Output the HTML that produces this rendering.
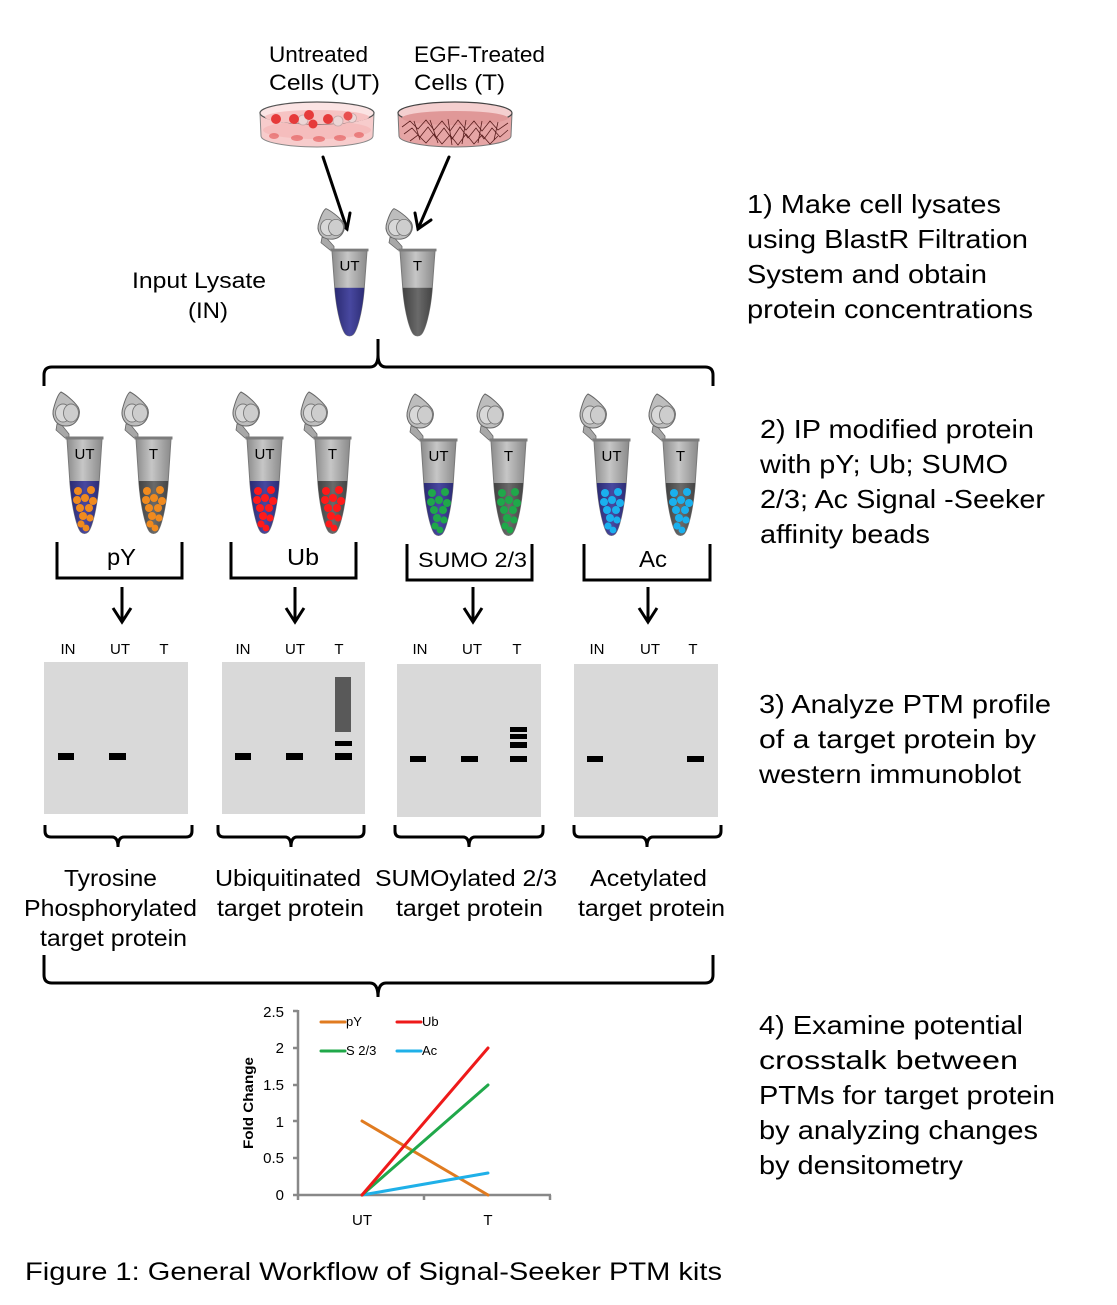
<!DOCTYPE html>
<html><head><meta charset="utf-8"><style>
html,body{margin:0;padding:0;background:#fff;}
svg{display:block;}
text{font-family:"Liberation Sans",Arial,sans-serif;fill:#000;}
</style></head><body>
<svg width="1117" height="1305" viewBox="0 0 1117 1305" xmlns="http://www.w3.org/2000/svg">
<defs>
<linearGradient id="gb" x1="0" x2="1" y1="0" y2="0"><stop offset="0" stop-color="#8c8c8c"/><stop offset=".45" stop-color="#c6c6c6"/><stop offset="1" stop-color="#8a8a8a"/></linearGradient>
<linearGradient id="lb" x1="0" x2="1" y1="0" y2="0"><stop offset="0" stop-color="#26266a"/><stop offset=".5" stop-color="#4848a0"/><stop offset="1" stop-color="#26266a"/></linearGradient>
<linearGradient id="lg" x1="0" x2="1" y1="0" y2="0"><stop offset="0" stop-color="#3a3a3a"/><stop offset=".5" stop-color="#6a6a6a"/><stop offset="1" stop-color="#3a3a3a"/></linearGradient>
<path id="body" d="M0,1 L35,1 L32,46 C30,70 25,90 21,94 Q17.5,97 14,94 C10,90 5,70 3,46 Z"/>
<clipPath id="cb"><path d="M0,1 L35,1 L32,46 C30,70 25,90 21,94 Q17.5,97 14,94 C10,90 5,70 3,46 Z"/></clipPath>
<g id="cap">
<path d="M-10,-14 L-6,-14 L2,-4 L2,0 L-2,0 L-11,-8 Z" fill="#a8a8a8" stroke="#666" stroke-width=".8"/>
<path d="M-6,-46 C-2,-44 6,-38 11,-31 C15,-24 10,-12 -1,-12 C-12,-12 -16,-22 -13,-31 C-11,-38 -9,-44 -6,-46 Z" fill="#bdbdbd" stroke="#666" stroke-width="1"/>
<ellipse cx="-4" cy="-25" rx="7.5" ry="9" fill="#d8d8d8" stroke="#777" stroke-width=".9"/>
<ellipse cx="4" cy="-25" rx="7.5" ry="9" fill="#cdcdcd" stroke="#777" stroke-width=".9"/>
</g>
<g id="tube">
<use href="#cap"/>
<use href="#body" fill="url(#gb)" stroke="#7a7a7a" stroke-width="1"/>
<rect x="-1.5" y="-1.5" width="38" height="3" fill="#7c7c7c"/>
</g>
<g id="beads">
<circle cx="11" cy="53" r="4"/><circle cx="24" cy="52" r="4"/>
<circle cx="10" cy="62" r="4"/><circle cx="18" cy="60" r="4"/><circle cx="26" cy="63" r="4"/>
<circle cx="13" cy="70" r="4"/><circle cx="22" cy="70" r="4"/>
<circle cx="16" cy="78" r="4"/><circle cx="23" cy="80" r="3.6"/>
<circle cx="14" cy="86" r="3.6"/><circle cx="19" cy="90" r="3.4"/>
</g>
</defs>

<!-- top labels -->
<text x="269" y="62" font-size="22" textLength="99" lengthAdjust="spacingAndGlyphs">Untreated</text>
<text x="269" y="90" font-size="22" textLength="111" lengthAdjust="spacingAndGlyphs">Cells  (UT)</text>
<text x="414" y="62" font-size="22" textLength="131" lengthAdjust="spacingAndGlyphs">EGF-Treated</text>
<text x="414" y="90" font-size="22" textLength="91" lengthAdjust="spacingAndGlyphs">Cells  (T)</text>

<!-- UT dish -->
<path d="M260,113 L261,136 A56,11 0 0 0 373,136 L374,113 Z" fill="#f7cccc" stroke="#888" stroke-width="1"/>
<ellipse cx="317" cy="130" rx="54" ry="9" fill="#f3b6b6" opacity=".7"/>
<ellipse cx="317" cy="113" rx="57" ry="11" fill="#fbe4e4" stroke="#555" stroke-width="1.2"/>
<ellipse cx="317" cy="117" rx="52" ry="7" fill="#f6c3c3"/>
<circle cx="303" cy="120" r="5" fill="#ecd6d6" stroke="#c4a8a8" stroke-width=".8"/>
<circle cx="338" cy="121" r="5" fill="#ecd6d6" stroke="#c4a8a8" stroke-width=".8"/>
<circle cx="352" cy="118" r="4.5" fill="#ecd6d6" stroke="#c4a8a8" stroke-width=".8"/>
<circle cx="276" cy="119" r="5" fill="#e63a3a"/>
<circle cx="294" cy="119" r="5" fill="#e63a3a"/>
<circle cx="309" cy="115" r="5" fill="#e63a3a"/>
<circle cx="313" cy="124" r="4.5" fill="#e63a3a"/>
<circle cx="328" cy="119" r="5" fill="#e63a3a"/>
<circle cx="348" cy="116" r="4.5" fill="#e85050"/>
<ellipse cx="274" cy="136" rx="5" ry="3" fill="#e56262" opacity=".7"/>
<ellipse cx="297" cy="138" rx="6" ry="3" fill="#e56262" opacity=".7"/>
<ellipse cx="319" cy="139" rx="6" ry="3" fill="#e56262" opacity=".7"/>
<ellipse cx="340" cy="138" rx="6" ry="3" fill="#e56262" opacity=".7"/>
<ellipse cx="359" cy="135" rx="5" ry="3" fill="#e56262" opacity=".7"/>

<!-- T dish -->
<path d="M398,113 L399,136 A56,11 0 0 0 511,136 L512,113 Z" fill="#e6a5a5" stroke="#777" stroke-width="1"/>
<ellipse cx="455" cy="113" rx="57" ry="11" fill="#f4cfcf" stroke="#444" stroke-width="1.2"/>
<ellipse cx="455" cy="118" rx="53" ry="7" fill="#e09898"/>
<g fill="none" stroke="#5a1e1e" stroke-width=".8">
<path d="M402,127 L410,121 L418,129 L426,120 L434,130 L442,121 L450,131 L458,120 L466,130 L474,121 L482,131 L490,121 L498,130 L508,123"/>
<path d="M404,134 L412,128 L420,137 L428,127 L436,138 L444,128 L452,139 L460,127 L468,138 L476,128 L484,139 L492,128 L500,137 L508,130"/>
<path d="M410,141 L418,135 L426,143 L434,134 L442,144 L450,135 L458,145 L466,134 L474,144 L482,135 L490,144 L498,136"/>
<path d="M414,121 L420,140 M430,120 L438,143 M448,119 L452,145 M466,120 L462,144 M482,121 L478,143 M498,122 L494,140"/>
</g>

<!-- arrows to tubes -->
<g stroke="#000" stroke-width="3" fill="none" stroke-linecap="round">
<line x1="323" y1="157" x2="347" y2="229"/>
<polyline points="335,219 347,229 350,213"/>
<line x1="449" y1="157" x2="418" y2="229"/>
<polyline points="415,213 418,229 431,220"/>
</g>

<!-- Input lysate -->
<text x="132" y="288" font-size="22" textLength="134" lengthAdjust="spacingAndGlyphs">Input Lysate</text>
<text x="188" y="318" font-size="22" textLength="40" lengthAdjust="spacingAndGlyphs">(IN)</text>

<!-- top tubes -->
<g transform="translate(332,250) scale(1,0.9)">
<use href="#tube"/>
<rect clip-path="url(#cb)" x="0" y="42" width="36" height="60" fill="url(#lb)"/>
<text x="17.5" y="23" font-size="15" text-anchor="middle">UT</text>
</g>
<g transform="translate(400,250) scale(1,0.9)">
<use href="#tube"/>
<rect clip-path="url(#cb)" x="0" y="42" width="36" height="60" fill="url(#lg)"/>
<text x="17.5" y="23" font-size="15" text-anchor="middle">T</text>
</g>

<!-- big bracket 1 -->
<path d="M44,386 L44,375 Q44,367 52,367 L370,367 Q378,367 378,355 Q378,367 386,367 L705,367 Q713,367 713,375 L713,386" fill="none" stroke="#000" stroke-width="3"/>
<line x1="378" y1="339" x2="378" y2="360" stroke="#000" stroke-width="3"/>

<!-- row 2 tubes -->
<g transform="translate(67,438)"><use href="#tube"/><rect clip-path="url(#cb)" x="0" y="43" width="36" height="60" fill="url(#lb)"/><use href="#beads" fill="#f08a1e"/><text x="17.5" y="21" font-size="15" text-anchor="middle">UT</text></g>
<g transform="translate(136,438)"><use href="#tube"/><rect clip-path="url(#cb)" x="0" y="43" width="36" height="60" fill="url(#lg)"/><use href="#beads" fill="#f08a1e"/><text x="17.5" y="21" font-size="15" text-anchor="middle">T</text></g>
<g transform="translate(247,438)"><use href="#tube"/><rect clip-path="url(#cb)" x="0" y="43" width="36" height="60" fill="url(#lb)"/><use href="#beads" fill="#ff1a1a"/><text x="17.5" y="21" font-size="15" text-anchor="middle">UT</text></g>
<g transform="translate(315,438)"><use href="#tube"/><rect clip-path="url(#cb)" x="0" y="43" width="36" height="60" fill="url(#lg)"/><use href="#beads" fill="#ff1a1a"/><text x="17.5" y="21" font-size="15" text-anchor="middle">T</text></g>
<g transform="translate(421,440)"><use href="#tube"/><rect clip-path="url(#cb)" x="0" y="43" width="36" height="60" fill="url(#lb)"/><use href="#beads" fill="#1fa84a"/><text x="17.5" y="21" font-size="15" text-anchor="middle">UT</text></g>
<g transform="translate(491,440)"><use href="#tube"/><rect clip-path="url(#cb)" x="0" y="43" width="36" height="60" fill="url(#lg)"/><use href="#beads" fill="#1fa84a"/><text x="17.5" y="21" font-size="15" text-anchor="middle">T</text></g>
<g transform="translate(594,440)"><use href="#tube"/><rect clip-path="url(#cb)" x="0" y="43" width="36" height="60" fill="url(#lb)"/><use href="#beads" fill="#1ab0ee"/><text x="17.5" y="21" font-size="15" text-anchor="middle">UT</text></g>
<g transform="translate(663,440)"><use href="#tube"/><rect clip-path="url(#cb)" x="0" y="43" width="36" height="60" fill="url(#lg)"/><use href="#beads" fill="#1ab0ee"/><text x="17.5" y="21" font-size="15" text-anchor="middle">T</text></g>

<!-- group brackets -->
<g fill="none" stroke="#000" stroke-width="3">
<polyline points="57,542 57,578 182,578 182,542"/>
<polyline points="231,542 231,578 356,578 356,542"/>
<polyline points="407,544 407,580 532,580 532,544"/>
<polyline points="584,544 584,580 710,580 710,544"/>
</g>
<text x="107" y="565" font-size="23" textLength="29" lengthAdjust="spacingAndGlyphs">pY</text>
<text x="287" y="565" font-size="23" textLength="32" lengthAdjust="spacingAndGlyphs">Ub</text>
<text x="418" y="567" font-size="21" textLength="109" lengthAdjust="spacingAndGlyphs">SUMO 2/3</text>
<text x="639" y="567" font-size="23" textLength="28" lengthAdjust="spacingAndGlyphs">Ac</text>

<!-- down arrows -->
<g stroke="#000" stroke-width="3" fill="none">
<line x1="122" y1="587" x2="122" y2="621"/><polyline points="113,608 122,622 131,608"/>
<line x1="295" y1="587" x2="295" y2="621"/><polyline points="286,608 295,622 304,608"/>
<line x1="473" y1="587" x2="473" y2="621"/><polyline points="464,608 473,622 482,608"/>
<line x1="648" y1="587" x2="648" y2="621"/><polyline points="639,608 648,622 657,608"/>
</g>

<!-- lane labels -->
<g font-size="15" text-anchor="middle">
<text x="68" y="654">IN</text><text x="120" y="654">UT</text><text x="164" y="654">T</text>
<text x="243" y="654">IN</text><text x="295" y="654">UT</text><text x="339" y="654">T</text>
<text x="420" y="654">IN</text><text x="472" y="654">UT</text><text x="517" y="654">T</text>
<text x="597" y="654">IN</text><text x="650" y="654">UT</text><text x="693" y="654">T</text>
</g>

<!-- blots -->
<rect x="44" y="662" width="144" height="152" fill="#d9d9d9"/>
<rect x="222" y="662" width="143" height="152" fill="#d9d9d9"/>
<rect x="397" y="664" width="144" height="153" fill="#d9d9d9"/>
<rect x="574" y="664" width="144" height="153" fill="#d9d9d9"/>
<g fill="#000">
<rect x="58" y="753" width="16" height="7"/><rect x="109" y="753" width="17" height="7"/>
<rect x="235" y="753" width="16" height="7"/><rect x="286" y="753" width="17" height="7"/><rect x="335" y="753" width="17" height="7"/>
<rect x="335" y="741" width="17" height="5"/>
<rect x="410" y="756" width="16" height="6"/><rect x="461" y="756" width="17" height="6"/><rect x="510" y="756" width="17" height="6"/>
<rect x="510" y="727" width="17" height="5"/><rect x="510" y="734" width="17" height="5"/><rect x="510" y="742" width="17" height="6"/>
<rect x="587" y="756" width="16" height="6"/><rect x="687" y="756" width="17" height="6"/>
</g>
<rect x="335" y="677" width="16" height="55" fill="#595959"/>

<!-- blot brackets -->
<g fill="none" stroke="#000" stroke-width="3">
<path d="M45,825 L45,831 Q45,837 51,837 L112,837 Q118,837 118,847 Q118,837 124,837 L186,837 Q192,837 192,831 L192,825"/>
<path d="M218,825 L218,831 Q218,837 224,837 L285,837 Q291,837 291,847 Q291,837 297,837 L358,837 Q364,837 364,831 L364,825"/>
<path d="M395,825 L395,831 Q395,837 401,837 L463,837 Q469,837 469,847 Q469,837 475,837 L537,837 Q543,837 543,831 L543,825"/>
<path d="M574,825 L574,831 Q574,837 580,837 L641,837 Q647,837 647,847 Q647,837 653,837 L715,837 Q721,837 721,831 L721,825"/>
</g>

<!-- labels -->
<g font-size="23">
<text x="64" y="886" textLength="93" lengthAdjust="spacingAndGlyphs">Tyrosine</text>
<text x="24" y="916" textLength="173" lengthAdjust="spacingAndGlyphs">Phosphorylated</text>
<text x="40" y="946" textLength="147" lengthAdjust="spacingAndGlyphs">target protein</text>
<text x="215" y="886" textLength="146" lengthAdjust="spacingAndGlyphs">Ubiquitinated</text>
<text x="217" y="916" textLength="147" lengthAdjust="spacingAndGlyphs">target protein</text>
<text x="375" y="886" textLength="182" lengthAdjust="spacingAndGlyphs">SUMOylated 2/3</text>
<text x="396" y="916" textLength="147" lengthAdjust="spacingAndGlyphs">target protein</text>
<text x="590" y="886" textLength="117" lengthAdjust="spacingAndGlyphs">Acetylated</text>
<text x="578" y="916" textLength="147" lengthAdjust="spacingAndGlyphs">target protein</text>
</g>

<!-- big bracket 2 -->
<path d="M44,955 L44,975 Q44,983 52,983 L370,983 Q378,983 378,997 Q378,983 386,983 L705,983 Q713,983 713,975 L713,955" fill="none" stroke="#000" stroke-width="3"/>

<!-- chart -->
<g stroke="#888" stroke-width="2.5" fill="none">
<line x1="298" y1="1010" x2="298" y2="1196"/>
<line x1="297" y1="1195" x2="551" y2="1195"/>
<line x1="293" y1="1011" x2="298" y2="1011"/>
<line x1="293" y1="1048" x2="298" y2="1048"/>
<line x1="293" y1="1085" x2="298" y2="1085"/>
<line x1="293" y1="1121" x2="298" y2="1121"/>
<line x1="293" y1="1158" x2="298" y2="1158"/>
<line x1="293" y1="1195" x2="298" y2="1195"/>
<line x1="298" y1="1195" x2="298" y2="1200"/>
<line x1="424" y1="1195" x2="424" y2="1200"/>
<line x1="550" y1="1195" x2="550" y2="1200"/>
</g>
<g font-size="15" text-anchor="end">
<text x="284" y="1017">2.5</text>
<text x="284" y="1053">2</text>
<text x="284" y="1090">1.5</text>
<text x="284" y="1127">1</text>
<text x="284" y="1163">0.5</text>
<text x="284" y="1200">0</text>
</g>
<text transform="translate(253,1149) rotate(-90)" font-size="14" font-weight="bold" textLength="92" lengthAdjust="spacingAndGlyphs">Fold Change</text>
<text x="362" y="1225" font-size="15" text-anchor="middle">UT</text>
<text x="488" y="1225" font-size="15" text-anchor="middle">T</text>
<g stroke-width="3" fill="none" stroke-linecap="round">
<line x1="362" y1="1121" x2="488" y2="1195" stroke="#e07b20"/>
<line x1="362" y1="1195" x2="488" y2="1173" stroke="#1fb0e8"/>
<line x1="362" y1="1195" x2="488" y2="1085" stroke="#20a84a"/>
<line x1="362" y1="1195" x2="488" y2="1048" stroke="#ee1a1a"/>
<line x1="321" y1="1022" x2="345" y2="1022" stroke="#e07b20"/>
<line x1="397" y1="1022" x2="421" y2="1022" stroke="#ee1a1a"/>
<line x1="321" y1="1051" x2="345" y2="1051" stroke="#20a84a"/>
<line x1="397" y1="1051" x2="421" y2="1051" stroke="#1fb0e8"/>
</g>
<g font-size="13">
<text x="346" y="1026">pY</text>
<text x="422" y="1026">Ub</text>
<text x="346" y="1055">S 2/3</text>
<text x="422" y="1055">Ac</text>
</g>

<!-- right column -->
<g font-size="26">
<text x="747" y="213" textLength="254" lengthAdjust="spacingAndGlyphs">1) Make cell lysates</text>
<text x="747" y="248" textLength="281" lengthAdjust="spacingAndGlyphs">using BlastR Filtration</text>
<text x="747" y="283" textLength="240" lengthAdjust="spacingAndGlyphs">System and obtain</text>
<text x="747" y="318" textLength="286" lengthAdjust="spacingAndGlyphs">protein concentrations</text>

<text x="760" y="438" textLength="274" lengthAdjust="spacingAndGlyphs">2) IP modified protein</text>
<text x="760" y="473" textLength="248" lengthAdjust="spacingAndGlyphs">with pY; Ub; SUMO</text>
<text x="760" y="508" textLength="285" lengthAdjust="spacingAndGlyphs">2/3; Ac Signal -Seeker</text>
<text x="760" y="543" textLength="170" lengthAdjust="spacingAndGlyphs">affinity beads</text>

<text x="759" y="713" textLength="292" lengthAdjust="spacingAndGlyphs">3) Analyze PTM profile</text>
<text x="759" y="748" textLength="277" lengthAdjust="spacingAndGlyphs">of a target protein by</text>
<text x="759" y="783" textLength="262" lengthAdjust="spacingAndGlyphs">western immunoblot</text>

<text x="759" y="1034" textLength="264" lengthAdjust="spacingAndGlyphs">4) Examine potential</text>
<text x="759" y="1069" textLength="259" lengthAdjust="spacingAndGlyphs">crosstalk between</text>
<text x="759" y="1104" textLength="296" lengthAdjust="spacingAndGlyphs">PTMs for target protein</text>
<text x="759" y="1139" textLength="279" lengthAdjust="spacingAndGlyphs">by analyzing changes</text>
<text x="759" y="1174" textLength="204" lengthAdjust="spacingAndGlyphs">by densitometry</text>
</g>

<!-- caption -->
<text x="25" y="1280" font-size="25" textLength="697" lengthAdjust="spacingAndGlyphs">Figure 1: General Workflow of Signal-Seeker PTM kits</text>
</svg>
</body></html>
